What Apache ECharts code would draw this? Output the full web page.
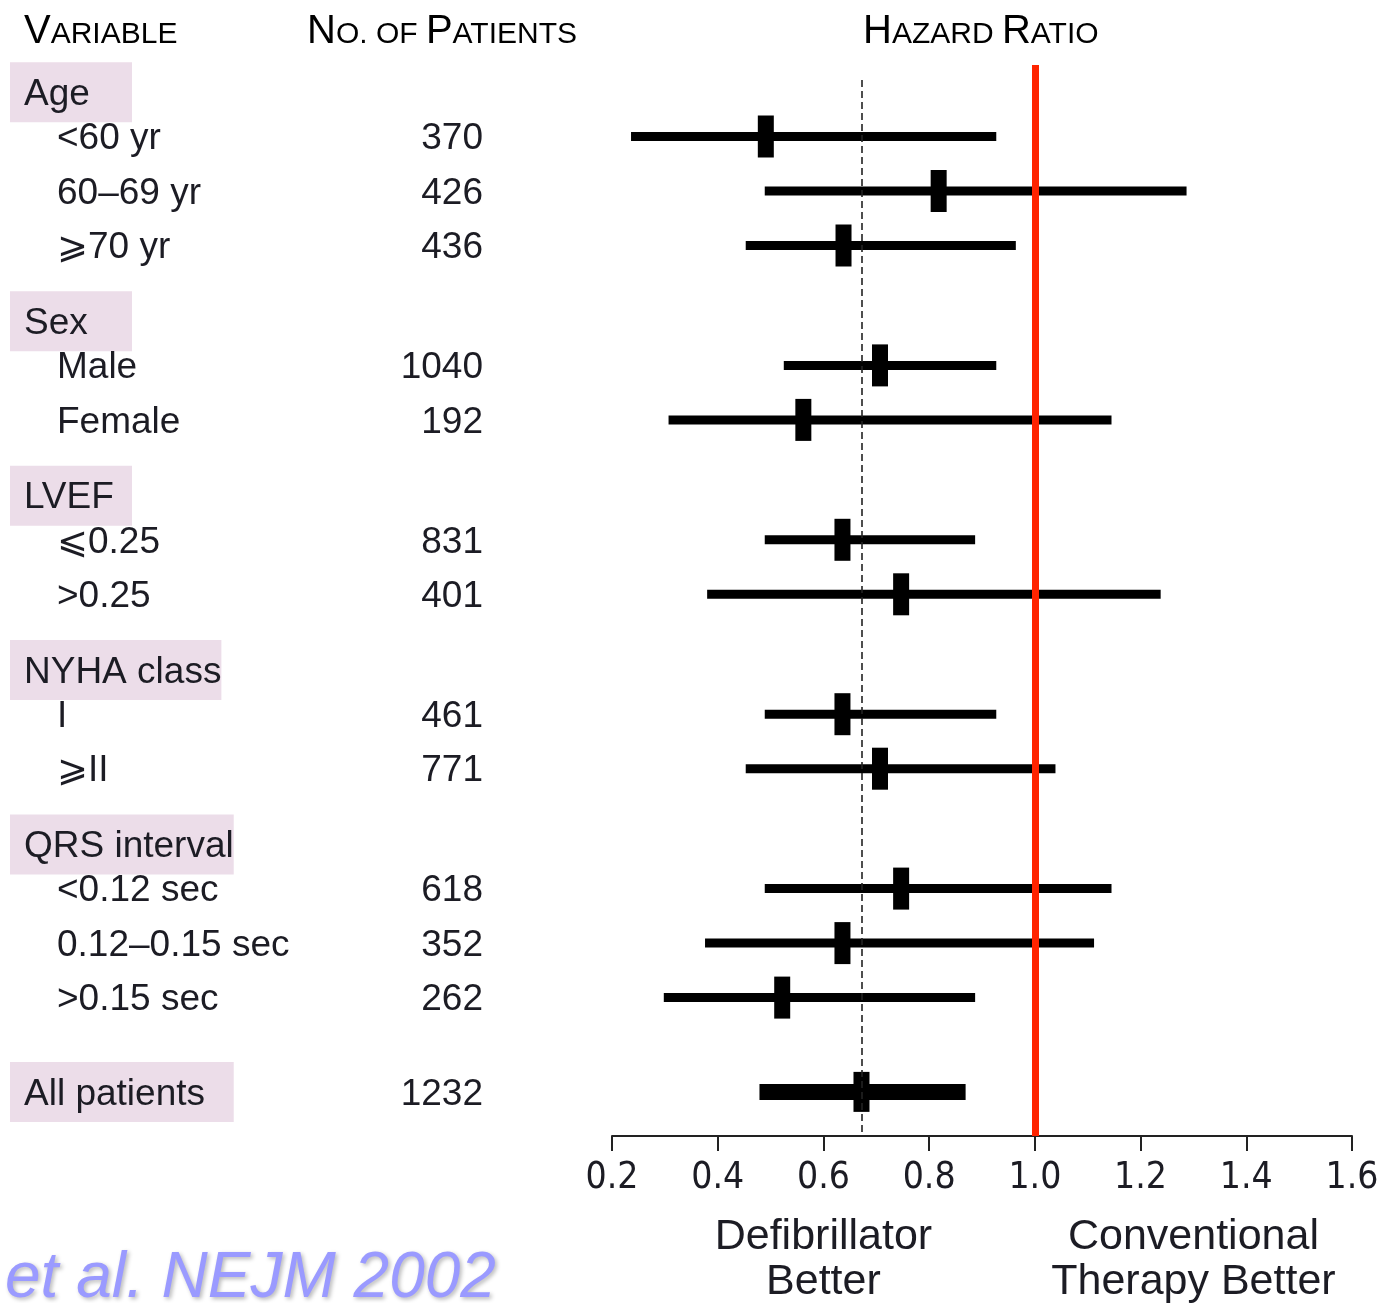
<!DOCTYPE html>
<html>
<head>
<meta charset="utf-8">
<script src="https://cdn.jsdelivr.net/npm/echarts@6/dist/echarts.min.js"></script>
<style>
  html, body { margin: 0; padding: 0; background: #fff; }
  #chart { width: 1385px; height: 1303px; }
</style>
</head>
<body>
<div id="chart"></div>
<script>
// ---------------- DATA ----------------
const groupNames = ['Age', 'Sex', 'LVEF', 'NYHA class', 'QRS interval'];
const groupSizes = [3, 2, 2, 2, 3];
const subgroupLabels = ['<60 yr', '60\u201369 yr', '\u2A7E70 yr', 'Male', 'Female', '\u2A7D0.25', '>0.25', 'I', '\u2A7EII', '<0.12 sec', '0.12\u20130.15 sec', '>0.15 sec'];
const patientCounts = [370, 426, 436, 1040, 192, 831, 401, 461, 771, 618, 352, 262];
const hrEstimate = [0.491, 0.818, 0.638, 0.707, 0.562, 0.636, 0.747, 0.636, 0.707, 0.747, 0.636, 0.522];
const hrLower    = [0.236, 0.489, 0.453, 0.525, 0.307, 0.489, 0.380, 0.489, 0.453, 0.489, 0.376, 0.298];
const hrUpper    = [0.927, 1.287, 0.964, 0.927, 1.145, 0.887, 1.238, 0.927, 1.039, 1.145, 1.112, 0.887];
const overallLabel = 'All patients';
const overallCount = 1232;
const overallHR = [0.479, 0.672, 0.869]; // lower, estimate, upper
const referenceHR = 1.0;
const xTickLabels = ['0.2', '0.4', '0.6', '0.8', '1.0', '1.2', '1.4', '1.6'];

// ---------------- LAYOUT (row units) ----------------
const ROW_PX = 54.5;
const HEADER_TO_ROW = 0.81;
const GROUP_GAP = 1.39;
const OVERALL_GAP = 1.73;
const GRID_TOP = 65, GRID_BOTTOM_PX = 1136, FIRST_ROW_PX = 136.5;
const TEXT_DY = 2.5;
const yMin = -(FIRST_ROW_PX - GRID_TOP) / ROW_PX;
const yMax = (GRID_BOTTOM_PX - FIRST_ROW_PX) / ROW_PX;
const dashTop = -(FIRST_ROW_PX - 80) / ROW_PX;

const xMin = parseFloat(xTickLabels[0]);
const xMax = parseFloat(xTickLabels[xTickLabels.length - 1]);
const xStep = parseFloat(xTickLabels[1]) - xMin;

// Build row positions
const headerRows = [];   // [y, groupIndex]
const subRows = [];      // [lower, est, upper, y, subIndex]
let cur = -HEADER_TO_ROW;
let k = 0;
groupNames.forEach((g, gi) => {
  headerRows.push([cur, gi]);
  cur += HEADER_TO_ROW;
  for (let j = 0; j < groupSizes[gi]; j++) {
    subRows.push([hrLower[k], hrEstimate[k], hrUpper[k], cur, k]);
    k++;
    if (j < groupSizes[gi] - 1) cur += 1;
  }
  cur += GROUP_GAP;
});
const overallY = cur - GROUP_GAP + OVERALL_GAP;

const TXT = '#1c1c24';
const BOX = '#ecdde9';
const FONT = '"Liberation Sans", Arial, sans-serif';
const LFS = 37;

// measure text width for boxes
const mctx = document.createElement('canvas').getContext('2d');
mctx.font = LFS + 'px ' + FONT;
const headerBoxW = groupNames.map(n => Math.max(122, mctx.measureText(n).width + 14));
const overallBoxW = Math.max(...headerBoxW, mctx.measureText(overallLabel).width + 14);

// label rows: [y, kind, idx]  kind 0 header, 1 sub, 2 overall
const labelRows = [];
headerRows.forEach(h => labelRows.push([h[0], 0, h[1]]));
subRows.forEach(s => labelRows.push([s[3], 1, s[4]]));
labelRows.push([overallY, 2, 0]);

const forestData = subRows.map(r => [r[0], r[1], r[2], r[3], 0]);
forestData.push([overallHR[0], overallHR[1], overallHR[2], overallY, 1]);

const chart = echarts.init(document.getElementById('chart'), null, { renderer: 'canvas' });

const option = {
  backgroundColor: '#ffffff',
  animation: false,
  grid: { left: 612, right: 33, top: GRID_TOP, bottom: 1303 - GRID_BOTTOM_PX },
  xAxis: {
    type: 'value', min: xMin, max: xMax, interval: xStep,
    axisLine: { show: true, onZero: false, lineStyle: { color: '#222', width: 2 } },
    axisTick: { show: true, inside: false, length: 15, lineStyle: { color: '#222', width: 2 } },
    splitLine: { show: false },
    axisLabel: {
      margin: 24, fontSize: 37, color: TXT,
      fontFamily: '"Liberation Sans Narrow", "DejaVu Sans Condensed", "Liberation Sans", sans-serif',
      formatter: v => xTickLabels[Math.round((v - xMin) / xStep)]
    }
  },
  yAxis: { type: 'value', inverse: true, min: yMin, max: yMax, show: false },
  series: [
    {
      type: 'custom',
      name: 'labels',
      clip: false,
      silent: true,
      data: labelRows,
      renderItem: (params, api) => {
        const y = api.coord([xMin, api.value(0)])[1];
        const ty = y + TEXT_DY;
        const kind = api.value(1), idx = api.value(2);
        const f = LFS + 'px ' + FONT;
        const children = [];
        if (kind === 0 || kind === 2) {
          const w = kind === 0 ? headerBoxW[idx] : overallBoxW;
          const text = kind === 0 ? groupNames[idx] : overallLabel;
          children.push({ type: 'rect', shape: { x: 10, y: y - 30, width: w, height: 60 }, style: { fill: BOX } });
          children.push({ type: 'text', style: { text: text, x: 24, y: ty, font: f, fill: TXT, verticalAlign: 'middle', align: 'left' } });
          if (kind === 2) {
            children.push({ type: 'text', style: { text: String(overallCount), x: 483, y: ty, font: f, fill: TXT, verticalAlign: 'middle', align: 'right' } });
          }
        } else {
          children.push({ type: 'text', style: { text: subgroupLabels[idx], x: 57, y: ty, font: f, fill: TXT, verticalAlign: 'middle', align: 'left' } });
          children.push({ type: 'text', style: { text: String(patientCounts[idx]), x: 483, y: ty, font: f, fill: TXT, verticalAlign: 'middle', align: 'right' } });
        }
        return { type: 'group', children: children };
      }
    },
    {
      type: 'custom',
      name: 'forest',
      clip: false,
      data: forestData,
      encode: { x: [0, 1, 2], y: 3 },
      renderItem: (params, api) => {
        const yv = api.value(3);
        const lo = api.coord([api.value(0), yv]);
        const pt = api.coord([api.value(1), yv]);
        const hi = api.coord([api.value(2), yv]);
        const overall = api.value(4) === 1;
        const barH = overall ? 16 : 9;
        const mw = 16, mh = overall ? 40 : 42;
        return {
          type: 'group',
          children: [
            { type: 'rect', shape: { x: lo[0], y: lo[1] - barH / 2, width: hi[0] - lo[0], height: barH }, style: { fill: '#000' } },
            { type: 'rect', shape: { x: pt[0] - mw / 2, y: pt[1] - mh / 2, width: mw, height: mh }, style: { fill: '#000' } }
          ]
        };
      },
      z: 2
    },
    {
      type: 'line',
      name: 'refs',
      data: [],
      z: 5,
      markLine: {
        silent: true, symbol: 'none', label: { show: false }, animation: false,
        data: [
          [{ coord: [overallHR[1], dashTop] , lineStyle: { color: '#222', width: 1.6, type: [7, 4] } }, { coord: [overallHR[1], yMax] }],
          [{ coord: [referenceHR, yMin], lineStyle: { color: '#ff2400', width: 7, type: 'solid' } }, { coord: [referenceHR, yMax] }]
        ]
      }
    }
  ]
};
chart.setOption(option);

// text annotations positioned from the axis
const px = v => chart.convertToPixel({ xAxisIndex: 0 }, v);
const capRich = () => ({
  b: { fontSize: 40, fontFamily: FONT, color: TXT, verticalAlign: 'bottom', lineHeight: 44 },
  s: { fontSize: 30, fontFamily: FONT, color: TXT, verticalAlign: 'bottom', lineHeight: 44, padding: [0, 0, 2, 0] }
});
chart.setOption({
  graphic: [
    { type: 'text', left: 24, top: 12, style: { text: '{b|V}{s|ARIABLE}', rich: capRich() } },
    { type: 'text', left: 307, top: 12, style: { text: '{b|N}{s|O. OF }{b|P}{s|ATIENTS}', rich: capRich() } },
    { type: 'text', left: 863, top: 12, style: { text: '{b|H}{s|AZARD }{b|R}{s|ATIO}', rich: capRich() } },
    { type: 'text', x: px(0.6), y: 1260, style: { text: 'Defibrillator\nBetter', font: '43px ' + FONT, fill: TXT, align: 'center', verticalAlign: 'middle', lineHeight: 45 } },
    { type: 'text', x: px(1.3), y: 1260, style: { text: 'Conventional\nTherapy Better', font: '43px ' + FONT, fill: TXT, align: 'center', verticalAlign: 'middle', lineHeight: 45 } },
    { type: 'text', x: 5, y: 1279, style: { text: 'et al. NEJM 2002', font: 'italic 64px ' + FONT, fill: '#9a9aff', align: 'left', verticalAlign: 'middle', textShadowColor: 'rgba(0,0,0,0.28)', textShadowBlur: 4, textShadowOffsetX: 2, textShadowOffsetY: 2 } }
  ]
});
</script>
</body>
</html>
